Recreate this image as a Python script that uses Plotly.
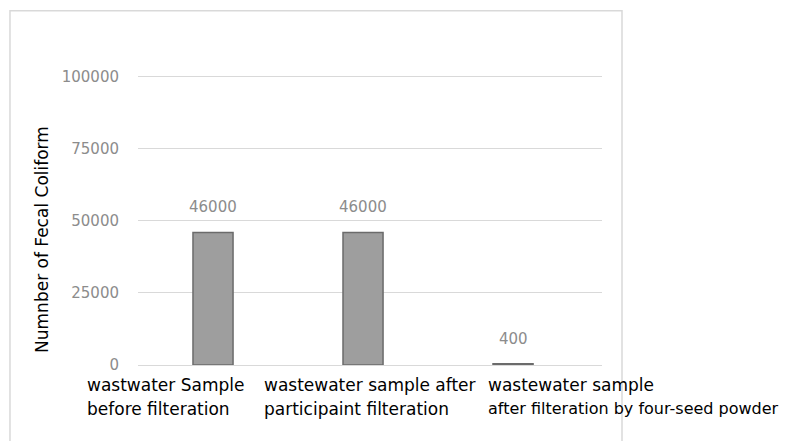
import plotly.graph_objects as go

categories = ["cat1", "cat2", "cat3"]
values = [46000, 46000, 400]
label_lines = [
    ["wastwater Sample", "before filteration"],
    ["wastewater sample after", "participaint filteration"],
    ["wastewater sample", "after filteration by four-seed powder"],
]
label_sizes = [[17, 17], [17, 17], [17, 16]]
label_xshift = [-128, -101, -27]
y_ticks = [0, 25000, 50000, 75000, 100000]
y_title = "Numnber of Fecal Coliform"

FONT = "DejaVu Sans"
GRID = "#d9d9d9"
GRAYTXT = "#8c8c8c"

fig = go.Figure()
fig.add_trace(go.Bar(
    x=categories, y=values, width=0.267,
    marker=dict(color="#9e9e9e", line=dict(color="#6b6b6b", width=1.5)),
    hoverinfo="skip",
))

ann = []
for c, v in zip(categories, values):
    ann.append(dict(x=c, y=v, xref="x", yref="y", text=f"{v}", showarrow=False,
                    yanchor="bottom", yshift=14,
                    font=dict(family=FONT, size=15, color=GRAYTXT)))
for c, lines, sizes, xs in zip(categories, label_lines, label_sizes, label_xshift):
    for i, (ln, sz) in enumerate(zip(lines, sizes)):
        ann.append(dict(x=c, y=0, xref="x", yref="paper", text=ln, showarrow=False,
                        xanchor="left", yanchor="top", xshift=xs, yshift=-8 - 24 * i,
                        font=dict(family=FONT, size=sz, color="#000000")))
ann.append(dict(x=-0.207, y=0.433, xref="paper", yref="paper", text=y_title,
                showarrow=False, textangle=-90, xanchor="center", yanchor="middle",
                font=dict(family=FONT, size=17, color="#000000")))

fig.update_layout(
    width=794, height=441,
    margin=dict(l=130, r=200, t=66, b=84),
    paper_bgcolor="white", plot_bgcolor="white",
    showlegend=False,
    annotations=ann,
    shapes=[dict(type="rect", xref="paper", yref="paper",
                 x0=-0.2759, x1=1.0431, y0=-0.32, y1=1.217,
                 line=dict(color=GRID, width=1.5), fillcolor="rgba(0,0,0,0)")],
    xaxis=dict(range=[-0.5, 2.593], showticklabels=False, showgrid=False,
               showline=False, zeroline=False, ticks=""),
    yaxis=dict(range=[0, 101000], tickvals=y_ticks, ticktext=[str(t) for t in y_ticks],
               showgrid=True, gridcolor=GRID, gridwidth=1,
               zeroline=True, zerolinecolor=GRID, zerolinewidth=1,
               ticks="outside", ticklen=15, tickcolor="rgba(0,0,0,0)",
               tickfont=dict(family=FONT, size=15, color=GRAYTXT)),
)

fig.write_html("out.html")
